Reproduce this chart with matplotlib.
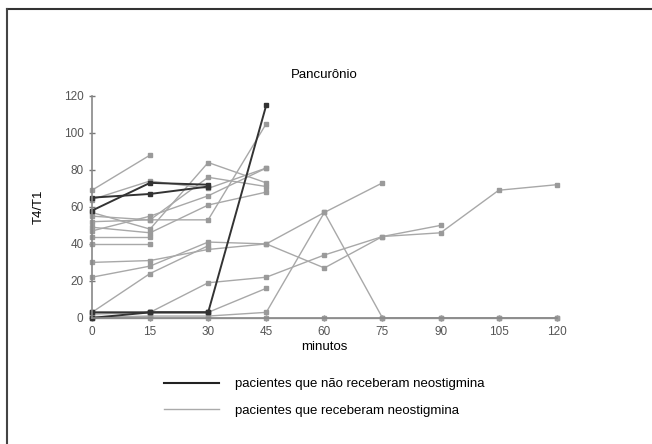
import matplotlib.pyplot as plt
from matplotlib.lines import Line2D

plt.rcParams['font.family'] = ['Liberation Sans', 'DejaVu Sans']

# time points (minutes)
tempos = [0, 15, 30, 45, 60, 75, 90, 105, 120]
xticks = tempos
yticks = [0, 20, 40, 60, 80, 100, 120]

# patients who did not receive neostigmine (black)
sem_neo = [
    [58, 73, 72],
    [65, 67, 71],
    [3, 3, 3, 115],
    [0, 3, 3],
]

# patients who received neostigmine (gray)
com_neo = [
    [69, 88],
    [64, 74, 70, 81],
    [57, 48, 84, 73],
    [55, 53, 53, 105],
    [49, 46, 61, 68],
    [47, 55, 66, 81],
    [52, 53, 76, 71],
    [44, 44],
    [40, 40],
    [30, 31, 37, 40, 57, 73],
    [22, 28, 41, 40, 27, 44, 50],
    [3, 24, 39],
    [2, 3, 19, 22, 34, 44, 46, 69, 72],
    [3, 3, 3, 16],
    [0, 1, 1, 3, 57, 0, 0, 0, 0],
    [0, 0, 0, 0, 0, 0, 0, 0, 0],
    [1, 1],
]

fig = plt.figure(figsize=(6.52, 4.44), dpi=100)
ax = fig.add_axes([0.141, 0.284, 0.713, 0.5])

for serie in com_neo:
    ax.plot(tempos[:len(serie)], serie, color='#a8a8a8', lw=1.0,
            marker='s', ms=3.5, mfc='#9a9a9a', mec='#9a9a9a', clip_on=False)
for serie in sem_neo:
    ax.plot(tempos[:len(serie)], serie, color='#333333', lw=1.4,
            marker='s', ms=3.5, mfc='#333333', mec='#333333', clip_on=False)

ax.set_xlim(0, 120)
ax.set_ylim(0, 120)
ax.set_xticks(xticks)
ax.set_yticks(yticks)
ax.tick_params(direction='inout', length=5, width=1, color='#777777',
               labelcolor='#555555', labelsize=8.5)
for s in ['top', 'right']:
    ax.spines[s].set_visible(False)
for s in ['left', 'bottom']:
    ax.spines[s].set_color('#888888')
    ax.spines[s].set_linewidth(1.2)

ax.set_title('Pancurônio', fontsize=9.5, pad=13)
ax.set_xlabel('minutos', fontsize=9.5, labelpad=2)
ax.set_ylabel('T4/T1', fontsize=9.5, labelpad=14)

handles = [
    Line2D([], [], color='#222222', lw=1.5),
    Line2D([], [], color='#aaaaaa', lw=1.0),
]
labels = ['pacientes que não receberam neostigmina',
          'pacientes que receberam neostigmina']
fig.legend(handles, labels, loc='upper left', bbox_to_anchor=(0.243, 0.16),
           frameon=False, fontsize=9.5, handlelength=4.2, handletextpad=1.2,
           labelspacing=1.05, borderaxespad=0)

# outer frame of the original figure
fig.add_artist(Line2D([0.011, 1.0], [0.98, 0.98], color='#333333', lw=1.5))
fig.add_artist(Line2D([0.011, 0.011], [0.0, 0.98], color='#444444', lw=1.5))

fig.savefig('out.png', dpi=100)
